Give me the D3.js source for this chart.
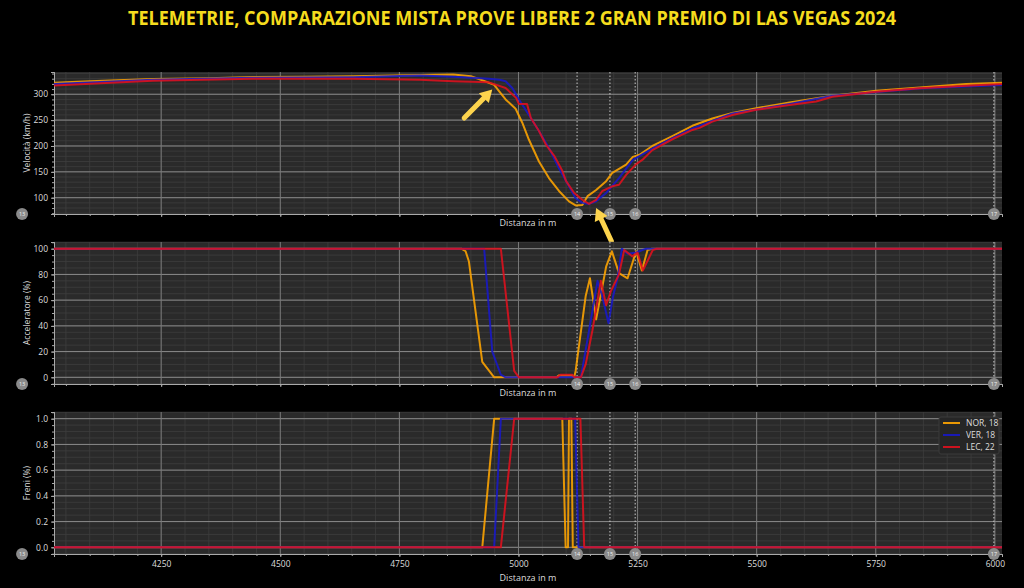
<!DOCTYPE html>
<html>
<head>
<meta charset="utf-8">
<script src="https://cdn.jsdelivr.net/npm/d3@7"></script>
<style>
body { margin: 0; background: #000; }
svg { display: block; font-family: "Open Sans", sans-serif; }
</style>
</head>
<body>
<div id="chart"></div>
<script>
// data: [distance m, value]
var drivers = ["NOR, 18", "VER, 18", "LEC, 22"];

var norSpeed = [[4025,322],[4100,325],[4232,329.6],[4350,331],[4442,333.5],[4550,334],[4653,335],[4793,337],[4863,338],[4900,335],[4924,327],[4949,318],[4960,305],[4973,290],[4994,272],[5008,245],[5022,212],[5043,170],[5064,138],[5085,113],[5106,93],[5120,85],[5134,86],[5145,103],[5163,115],[5184,132],[5197,148],[5226,164],[5240,179],[5254,183],[5281,200],[5323,219],[5365,239],[5407,253],[5449,264],[5499,273],[5569,284],[5659,297],[5751,307],[5842,313],[5940,320],[6015,322]];
var verSpeed = [[4025,320],[4232,328],[4442,332],[4653,333],[4793,336],[4863,334],[4938,330],[4960,328],[4973,325],[4987,312],[5001,290],[5022,260],[5043,229],[5064,196],[5085,157],[5106,122],[5120,99],[5134,90],[5148,88],[5163,93],[5184,109],[5211,138],[5240,173],[5281,195],[5323,215],[5365,234],[5449,263],[5569,281],[5659,297],[5842,311],[6015,318]];
var lecSpeed = [[4025,317],[4232,326],[4442,330],[4653,330],[4793,328],[4863,325],[4938,323],[4973,312],[4995,293],[5001,281],[5018,281],[5026,254],[5043,229],[5058,202],[5075,181],[5092,152],[5100,132],[5117,109],[5134,96],[5148,88],[5163,96],[5176,113],[5197,122],[5211,125],[5226,144],[5247,165],[5260,173],[5281,192],[5323,213],[5365,231],[5380,235],[5407,247],[5449,260],[5499,270],[5569,279],[5625,286],[5659,295],[5751,305],[5842,311.6],[5940,316.6],[6015,320]];

var norThrottle = [[4025,100],[4880,100],[4889,98],[4896,90],[4924,12],[4949,0],[5080,0],[5085,1.5],[5112,1.5],[5117,0],[5120,5],[5141,63],[5150,77],[5163,45],[5184,86],[5196,98],[5211,81],[5229,77],[5247,98],[5259,83],[5271,99],[5280,100],[6015,100]];
var verThrottle = [[4025,100],[4928,100],[4945,20],[4963,2],[4973,0],[5131,0],[5148,36],[5166,75],[5176,63],[5189,42],[5198,62],[5208,77],[5217,100],[5229,96],[5247,97],[5268,100],[6015,100]];
var lecThrottle = [[4025,100],[4963,100],[4991,5],[5001,0],[5082,0],[5088,2],[5113,2],[5118,0],[5131,0],[5141,10],[5155,36],[5173,75],[5184,56],[5194,67],[5211,80],[5222,99],[5239,94],[5250,97],[5261,83],[5282,99],[5290,100],[6015,100]];

var norBrake = [[4025,0],[4924,0],[4949,1],[5092,1],[5099,0],[5104,0],[5106,1],[5111,1],[5114,0],[6015,0]];
var verBrake = [[4025,0],[4949,0],[4963,1],[5119,1],[5126,0],[6015,0]];
var lecBrake = [[4025,0],[4963,0],[4991,1],[5130,1],[5138,0],[6015,0]];

var cornerNumbers = [13, 14, 15, 16, 17];
var cornerDistances = [3958, 5123, 5192, 5245, 5998];

var xTicks = [4250, 4500, 4750, 5000, 5250, 5500, 5750, 6000];
var speedTicks = [100, 150, 200, 250, 300];
var throttleTicks = [0, 20, 40, 60, 80, 100];
var brakeTicks = [0, 0.2, 0.4, 0.6, 0.8, 1.0];

// annotation arrows [from distance, from speed, to distance, to speed]
var arrows = [[4886, 254, 4945, 309], [5195, 16, 5163, 80]];

var colors = ["#ffa500", "#1818c8", "#e0101e"];

drawChart();

function drawChart() {
	var W = 1024, H = 588;
	var left = 54, right = 1002;

	var svg = d3.select("#chart").append("svg")
		.attr("width", W).attr("height", H)
		.style("background", "#000");

	svg.append("text")
		.attr("x", 512).attr("y", 25)
		.attr("text-anchor", "middle")
		.attr("textLength", 768)
		.attr("lengthAdjust", "spacingAndGlyphs")
		.style("font-size", "19px")
		.style("font-weight", "700")
		.style("fill", "#f5dc1e")
		.text("TELEMETRIE, COMPARAZIONE MISTA PROVE LIBERE 2 GRAN PREMIO DI LAS VEGAS 2024");

	var x = d3.scaleLinear().domain([4025, 6015]).range([left, right]);

	var panels = [
		{ top: 72, bottom: 214, domain: [68.5, 343], ticks: speedTicks, minor: 10, fmt: d3.format("d"), label: "Velocità (km/h)", series: [norSpeed, verSpeed, lecSpeed] },
		{ top: 242, bottom: 384, domain: [-5.2, 105.2], ticks: throttleTicks, minor: 5, fmt: d3.format("d"), label: "Acceleratore (%)", series: [norThrottle, verThrottle, lecThrottle] },
		{ top: 412, bottom: 554, domain: [-0.052, 1.052], ticks: brakeTicks, minor: 0.05, fmt: d3.format(".1f"), label: "Freni (%)", series: [norBrake, verBrake, lecBrake], legend: true, xLabels: true }
	];

	var minorX = d3.range(4050, 6016, 50);

	panels.forEach(function(p, i) {
		var y = d3.scaleLinear().domain(p.domain).range([p.bottom, p.top]);
		var g = svg.append("g");

		g.append("clipPath").attr("id", "clip" + i)
			.append("rect").attr("x", left).attr("y", p.top)
			.attr("width", right - left).attr("height", p.bottom - p.top);

		g.append("rect")
			.attr("x", left).attr("y", p.top)
			.attr("width", right - left).attr("height", p.bottom - p.top)
			.attr("fill", "#2a2a2a");

		// minor grid
		var minorY = d3.range(Math.ceil(p.domain[0] / p.minor) * p.minor, p.domain[1], p.minor);
		g.selectAll(".mgy").data(minorY).enter().append("line")
			.attr("x1", left).attr("x2", right)
			.attr("y1", function(d) { return y(d); }).attr("y2", function(d) { return y(d); })
			.attr("stroke", "#3e3e3e").attr("stroke-width", 0.8);
		g.selectAll(".mgx").data(minorX).enter().append("line")
			.attr("y1", p.top).attr("y2", p.bottom)
			.attr("x1", function(d) { return x(d); }).attr("x2", function(d) { return x(d); })
			.attr("stroke", "#3e3e3e").attr("stroke-width", 0.8);

		// major grid
		g.selectAll(".gy").data(p.ticks).enter().append("line")
			.attr("x1", left).attr("x2", right)
			.attr("y1", function(d) { return y(d); }).attr("y2", function(d) { return y(d); })
			.attr("stroke", "#8a8a8a").attr("stroke-width", 1);
		g.selectAll(".gx").data(xTicks).enter().append("line")
			.attr("y1", p.top).attr("y2", p.bottom)
			.attr("x1", function(d) { return x(d); }).attr("x2", function(d) { return x(d); })
			.attr("stroke", "#7a7a7a").attr("stroke-width", 1);

		// corner lines
		g.selectAll(".cl").data(cornerDistances.filter(function(d) { return d > 4025 && d < 6015; })).enter().append("line")
			.attr("y1", p.top).attr("y2", p.bottom)
			.attr("x1", function(d) { return x(d); }).attr("x2", function(d) { return x(d); })
			.attr("stroke", "#c8c8c8").attr("stroke-width", 1)
			.attr("stroke-dasharray", "1.5,2");

		// left axis
		var yAxis = d3.axisLeft(y).tickValues(p.ticks).tickFormat(p.fmt).tickSize(3).tickPadding(3);
		g.append("g").attr("transform", "translate(" + left + ",0)").call(yAxis);
		var yMinor = d3.axisLeft(y).tickValues(minorY).tickFormat("").tickSize(2);
		g.append("g").attr("transform", "translate(" + left + ",0)").call(yMinor);

		// bottom axis
		var xAxis = d3.axisBottom(x).tickValues(xTicks).tickSize(3).tickPadding(4)
			.tickFormat(p.xLabels ? d3.format("d") : "");
		g.append("g").attr("transform", "translate(0," + p.bottom + ")").call(xAxis);
		var xMinor = d3.axisBottom(x).tickValues(minorX).tickFormat("").tickSize(2);
		g.append("g").attr("transform", "translate(0," + p.bottom + ")").call(xMinor);

		g.selectAll(".domain").attr("stroke", "#aaa");
		g.selectAll(".tick line").attr("stroke", "#aaa");
		g.selectAll(".tick text").attr("fill", "#dddddd").style("font-size", "8.5px").style("font-family", "Open Sans, sans-serif");

		g.append("text")
			.attr("transform", "rotate(-90)")
			.attr("x", -(p.top + p.bottom) / 2).attr("y", 30)
			.attr("text-anchor", "middle")
			.style("font-size", "8.5px").style("fill", "#dddddd")
			.text(p.label);

		g.append("text")
			.attr("x", (left + right) / 2).attr("y", p.xLabels ? p.bottom + 27 : p.bottom + 12)
			.attr("text-anchor", "middle")
			.style("font-size", "9px").style("fill", "#dddddd")
			.text("Distanza in m");

		// lines
		var line = d3.line().x(function(d) { return x(d[0]); }).y(function(d) { return y(d[1]); });
		g.append("g").attr("clip-path", "url(#clip" + i + ")")
			.selectAll("path").data(p.series).enter().append("path")
			.attr("d", line)
			.attr("fill", "none")
			.attr("stroke", function(d, k) { return colors[k]; })
			.attr("stroke-width", 2)
			.attr("stroke-opacity", 0.88)
			.attr("stroke-linejoin", "round");

		// corner markers
		var cm = g.selectAll(".cm").data(cornerNumbers).enter().append("g")
			.attr("transform", function(d, k) { return "translate(" + x(cornerDistances[k]) + "," + p.bottom + ")"; });
		cm.append("circle").attr("r", 6).attr("fill", "#8a8a8a");
		cm.append("text").attr("text-anchor", "middle").attr("dy", "0.35em")
			.style("font-size", "5.5px").style("fill", "#f2f2f2")
			.text(function(d) { return d; });

		if (p.legend) {
			var lg = g.append("g").attr("transform", "translate(939,417)");
			lg.append("rect").attr("width", 60).attr("height", 37)
				.attr("fill", "#262626").attr("stroke", "#3a3a3a").attr("rx", 2);
			drivers.forEach(function(name, k) {
				lg.append("line").attr("x1", 4).attr("x2", 21)
					.attr("y1", 6 + k * 12).attr("y2", 6 + k * 12)
					.attr("stroke", colors[k]).attr("stroke-width", 1.8);
				lg.append("text").attr("x", 27).attr("y", 6 + k * 12).attr("dy", "0.35em")
					.style("font-size", "8.5px").style("fill", "#dddddd")
					.text(name);
			});
		}

		if (i === 0) {
			arrows.forEach(function(a) {
				var x0 = x(a[0]), y0 = y(a[1]), x1 = x(a[2]), y1 = y(a[3]);
				var ang = Math.atan2(y1 - y0, x1 - x0);
				var hl = 12, hw = 7;
				var bx = x1 - hl * Math.cos(ang), by = y1 - hl * Math.sin(ang);
				svg.append("line")
					.attr("x1", x0).attr("y1", y0).attr("x2", bx).attr("y2", by)
					.attr("stroke", "#fcd34d").attr("stroke-width", 5).attr("stroke-linecap", "round");
				var px = -Math.sin(ang), py = Math.cos(ang);
				svg.append("path")
					.attr("d", "M" + x1 + "," + y1 + "L" + (bx + px * hw) + "," + (by + py * hw) + "L" + (bx - px * hw) + "," + (by - py * hw) + "Z")
					.attr("fill", "#fcd34d");
			});
		}
	});
}
</script>
</body>
</html>
